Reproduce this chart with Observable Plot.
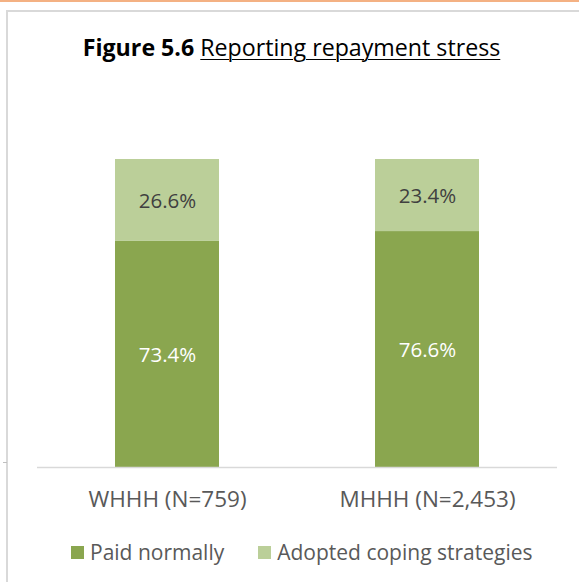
<!DOCTYPE html>
<html>
<head>
<meta charset="utf-8">
<script src="https://cdn.jsdelivr.net/npm/d3@7"></script>
<script src="https://cdn.jsdelivr.net/npm/@observablehq/plot@0.6"></script>
<style>
  html, body { margin: 0; padding: 0; background: #fff; }
  body { font-family: "Open Sans", Lato, sans-serif; }
  #wrap { position: relative; width: 579px; height: 582px; overflow: hidden; background: #fff; }
  #topline { position: absolute; left: 0; top: 0; width: 579px; height: 2px; background: #f4b183; }
  #frame { position: absolute; left: 6px; top: 10px; width: 700px; height: 700px; border-left: 2px solid #d9d9d9; border-top: 2px solid #d9d9d9; }
  #tick { position: absolute; left: 3px; top: 462px; width: 4px; height: 1px; background: #bfbfbf; }
  #title { position: absolute; left: 2px; top: 32px; width: 579px; text-align: center; font-size: 23.2px; line-height: 30px; color: #000; white-space: nowrap; }
  #title b { font-weight: bold; }
  #title u { text-decoration: underline; text-underline-offset: 3px; text-decoration-thickness: 1px; }
  #chart { position: absolute; left: 0; top: 140px; }
  #legend { position: absolute; left: 71px; top: 538px; display: flex; gap: 34px; font-size: 21px; color: #595959; line-height: 28px; white-space: nowrap; }
  .item { display: flex; align-items: center; gap: 6px; }
  .sw { width: 13px; height: 13px; display: inline-block; }
</style>
</head>
<body>
<div id="wrap">
  <div id="topline"></div>
  <div id="frame"></div>
  <div id="tick"></div>
  <div id="title"><b>Figure 5.6</b> <u>Reporting repayment stress</u></div>
  <div id="chart"></div>
  <div id="legend"></div>
</div>
<script>
const categories = ["WHHH (N=759)", "MHHH (N=2,453)"];
const seriesNames = ["Paid normally", "Adopted coping strategies"];
const paidNormally = [73.4, 76.6];
const adoptedCoping = [26.6, 23.4];
const seriesColors = ["#8aa64f", "#bbcf99"];
const labelColors = ["#ffffff", "#404040"];

const rows = [];
categories.forEach((c, i) => {
  rows.push({category: c, series: seriesNames[0], value: paidNormally[i]});
  rows.push({category: c, series: seriesNames[1], value: adoptedCoping[i]});
});

const fontFamily = "'Open Sans', Lato, sans-serif";

const chart = Plot.plot({
  width: 579,
  height: 380,
  marginTop: 19,
  marginBottom: 53,
  marginLeft: 37,
  marginRight: 22,
  style: {fontFamily, background: "transparent"},
  x: {type: "band", domain: categories, paddingInner: 0.6, paddingOuter: 0.3, axis: null},
  y: {domain: [0, 100], axis: null},
  color: {domain: seriesNames, range: seriesColors},
  marks: [
    Plot.barY(rows, Plot.stackY({x: "category", y: "value", fill: "series", inset: 0})),
    Plot.ruleY([0], {stroke: "#d9d9d9", strokeWidth: 1.5}),
    Plot.text(rows, Plot.stackY({
      x: "category", y: "value",
      text: d => d.series === seriesNames[0] ? d.value.toFixed(1) + "%" : "",
      fill: labelColors[0], fontSize: 20.5, dy: 1
    })),
    Plot.text(rows, Plot.stackY({
      x: "category", y: "value",
      text: d => d.series === seriesNames[1] ? d.value.toFixed(1) + "%" : "",
      fill: labelColors[1], fontSize: 20.5, dy: 1
    })),
    Plot.axisX({tickSize: 0, tickPadding: 24, fontSize: 22.5, fill: "#595959", color: "#595959", label: null})
  ]
});
document.getElementById("chart").appendChild(chart);

const legend = document.getElementById("legend");
seriesNames.forEach((s, i) => {
  const item = document.createElement("div");
  item.className = "item";
  const sw = document.createElement("span");
  sw.className = "sw";
  sw.style.background = seriesColors[i];
  const t = document.createElement("span");
  t.textContent = s;
  item.appendChild(sw);
  item.appendChild(t);
  legend.appendChild(item);
});
</script>
</body>
</html>
